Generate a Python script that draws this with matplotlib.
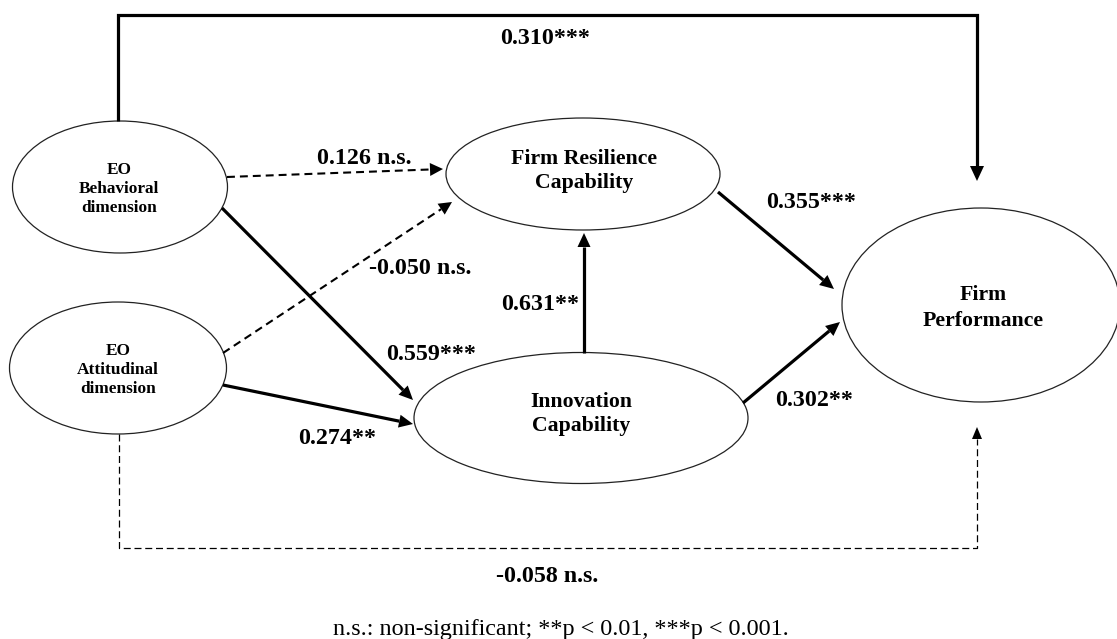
import numpy as np
import matplotlib.pyplot as plt
from matplotlib.patches import Ellipse, Polygon

plt.rcParams['font.family'] = ['Liberation Serif', 'DejaVu Serif']

# constructs of the model
node_names = ["EO\nBehavioral\ndimension", "EO\nAttitudinal\ndimension",
              "Firm Resilience\nCapability", "Innovation\nCapability",
              "Firm\nPerformance"]
node_x = [120, 118, 583, 581, 981]
node_y = [187, 368, 174, 418, 305]
node_w = [215, 217, 274, 334, 278]
node_h = [132, 132, 112, 131, 194]
node_fs = [12.4, 12.4, 15.7, 15.7, 15.7]
node_tx = [119, 118, 584, 581, 983]
node_ty = [189, 370, 171, 414, 308]
node_ls = [1.22, 1.22, 1.3, 1.3, 1.4]

# path coefficients
path_from = ["EO Behavioral", "EO Behavioral", "EO Attitudinal", "EO Behavioral",
             "EO Attitudinal", "Innovation", "Firm Resilience", "Innovation",
             "EO Attitudinal"]
path_to = ["Firm Performance", "Firm Resilience", "Firm Resilience", "Innovation",
           "Innovation", "Firm Resilience", "Firm Performance", "Firm Performance",
           "Firm Performance"]
coefs = [0.310, 0.126, -0.050, 0.559, 0.274, 0.631, 0.355, 0.302, -0.058]
signif = ["***", " n.s.", " n.s.", "***", "**", "**", "***", "**", " n.s."]

note = "n.s.: non-significant; **p < 0.01, ***p < 0.001."

W, H = 1117, 639
fig = plt.figure(figsize=(W / 100, H / 100), dpi=100)
ax = fig.add_axes([0, 0, 1, 1])
ax.set_xlim(0, W)
ax.set_ylim(H, 0)
ax.axis('off')


def head(tip, prev, size=14, width=13):
    tip = np.array(tip, float)
    prev = np.array(prev, float)
    u = (tip - prev) / np.linalg.norm(tip - prev)
    n = np.array([-u[1], u[0]])
    base = tip - size * u
    tri = [tip, base + n * width / 2, base - n * width / 2]
    ax.add_patch(Polygon(tri, closed=True, color='black', lw=0, zorder=4))
    return base


def path(pts, lw=2.3, dashes=None, size=14, width=13):
    pts = [np.array(p, float) for p in pts]
    base = head(pts[-1], pts[-2], size, width)
    xs = [p[0] for p in pts[:-1]] + [base[0]]
    ys = [p[1] for p in pts[:-1]] + [base[1]]
    line, = ax.plot(xs, ys, color='black', lw=lw, solid_capstyle='butt',
                    solid_joinstyle='miter', zorder=3)
    if dashes:
        line.set_dashes(dashes)


for i in range(len(node_names)):
    ax.add_patch(Ellipse((node_x[i], node_y[i]), node_w[i], node_h[i],
                         facecolor='white', edgecolor='#222222', lw=0.9, zorder=2))
    ax.text(node_tx[i], node_ty[i], node_names[i], ha='center', va='center',
            fontsize=node_fs[i], fontweight='bold', linespacing=node_ls[i],
            zorder=5)

# arrows
path([(118, 121), (118, 15), (977, 15), (977, 181)], size=15, width=14)
path([(227, 177), (443, 169)], lw=1.5, dashes=(3.8, 2.4), size=13, width=13)
path([(223, 353), (452, 202)], lw=1.5, dashes=(3.8, 2.4), size=13, width=13)
path([(222, 208), (413, 400)])
path([(223, 385), (413, 424)])
path([(584, 353), (584, 233)])
path([(718, 192), (834, 289)])
path([(743, 403), (840, 322)])
path([(119, 434), (119, 548), (977, 548), (977, 427)], lw=0.9,
     dashes=(5.6, 3.0), size=12, width=10)

label_x = [545, 364, 420, 431, 337, 540, 811, 814, 547]
label_y = [39, 158, 269, 354, 439, 305, 202, 400, 577]
for i in range(len(coefs)):
    ax.text(label_x[i], label_y[i], f"{coefs[i]:.3f}{signif[i]}", ha='center',
            va='center', fontsize=17.3, fontweight='bold', zorder=5)

ax.text(561, 630, note, ha='center', va='center', fontsize=17.4)

fig.savefig("out.png", dpi=100)
